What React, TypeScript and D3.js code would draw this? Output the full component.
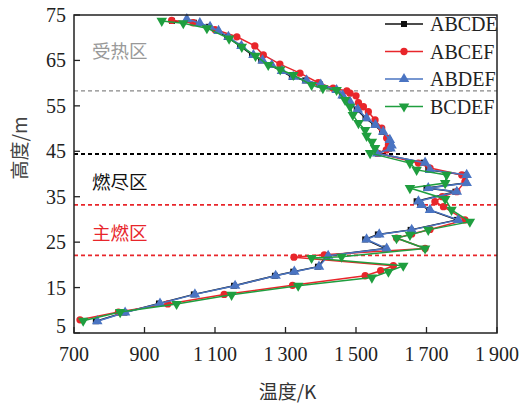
import React from "react";
import * as d3 from "d3";

// temperature (K), height (m)
const abcde: [number, number][] = [
  [762, 7.6], [843, 9.5], [941, 11.5], [1040, 13.5], [1154, 15.4], [1270, 17.6], [1322, 18.5], [1392, 19.6],
  [1418, 22.0], [1583, 23.6], [1526, 25.6], [1562, 26.7], [1655, 27.7], [1786, 29.9], [1707, 32.1], [1683, 33.2],
  [1672, 34.0], [1782, 36.1], [1700, 36.9], [1810, 38.0], [1810, 39.8], [1705, 40.9], [1692, 42.5], [1562, 44.5],
  [1594, 45.6], [1598, 46.3], [1592, 47.5], [1574, 49.3], [1552, 50.8], [1527, 52.3], [1502, 54.2], [1480, 55.9],
  [1460, 57.3], [1443, 58.5], [1398, 59.7], [1356, 60.6], [1318, 61.4], [1287, 62.7], [1257, 64.0], [1231, 65.0],
  [1205, 66.2], [1171, 68.2], [1134, 70.2], [1106, 71.5], [1082, 72.4], [1040, 73.3], [978, 73.7],
];
const abcef: [number, number][] = [
  [717, 7.9], [826, 9.6], [966, 11.4], [1126, 13.5], [1320, 15.5], [1526, 17.6], [1570, 18.7], [1606, 19.8],
  [1324, 21.7], [1410, 22.2], [1696, 23.6], [1615, 25.9], [1658, 26.8], [1710, 27.8], [1809, 29.9], [1748, 32.8],
  [1724, 33.9], [1745, 35.0], [1786, 36.1], [1809, 38.3], [1800, 39.8], [1710, 41.3], [1677, 42.4], [1560, 44.6],
  [1586, 45.3], [1592, 46.4], [1587, 47.9], [1573, 50.1], [1554, 51.9], [1535, 53.7], [1521, 54.8], [1507, 55.7],
  [1500, 57.2], [1483, 57.8], [1474, 58.3], [1435, 58.9], [1393, 60.1], [1341, 62.2], [1284, 64.2], [1237, 66.2],
  [1213, 68.2], [1162, 70.2], [1100, 71.8], [1038, 73.3], [977, 73.8],
];
const abdef: [number, number][] = [
  [766, 7.6], [845, 9.5], [944, 11.5], [1043, 13.5], [1157, 15.4], [1272, 17.6], [1325, 18.5], [1395, 19.6],
  [1421, 22.0], [1587, 23.6], [1530, 25.6], [1566, 26.7], [1658, 27.7], [1790, 29.9], [1710, 32.1], [1686, 33.2],
  [1677, 34.0], [1786, 36.1], [1705, 36.9], [1814, 38.0], [1814, 39.8], [1710, 40.9], [1696, 42.5], [1560, 44.5],
  [1598, 45.6], [1601, 46.3], [1596, 47.5], [1577, 49.3], [1555, 50.8], [1530, 52.3], [1505, 54.2], [1483, 55.9],
  [1462, 57.3], [1445, 58.5], [1400, 59.7], [1360, 60.6], [1322, 61.4], [1290, 62.7], [1261, 64.0], [1235, 65.0],
  [1209, 66.2], [1175, 68.2], [1138, 70.2], [1110, 71.5], [1086, 72.4], [1057, 73.2], [1020, 74.1],
];
const bcdef: [number, number][] = [
  [726, 7.7], [831, 9.6], [991, 11.4], [1147, 13.4], [1336, 15.4], [1545, 17.2], [1592, 18.5], [1634, 19.8],
  [1374, 21.5], [1459, 21.8], [1696, 23.6], [1615, 25.9], [1653, 26.6], [1705, 27.7], [1823, 29.5], [1771, 32.1],
  [1753, 34.5], [1653, 36.9], [1753, 38.0], [1757, 39.8], [1672, 40.9], [1653, 42.4], [1540, 44.6], [1554, 45.7],
  [1545, 47.1], [1530, 48.4], [1526, 49.7], [1507, 51.2], [1491, 53.0], [1483, 54.8], [1469, 56.3], [1445, 58.5],
  [1406, 58.9], [1374, 59.6], [1322, 61.8], [1285, 63.0], [1251, 64.0], [1215, 66.0], [1176, 68.0], [1140, 69.8],
  [1077, 72.1], [1010, 73.2], [949, 73.7],
];

const seriesNames = ["ABCDE", "ABCEF", "ABDEF", "BCDEF"];
const seriesData = [abcde, abcef, abdef, bcdef];
const seriesColors = ["#111111", "#e8262b", "#4a74c2", "#1f9e3f"];
const seriesSymbols = [d3.symbolSquare, d3.symbolCircle, d3.symbolTriangle, d3.symbolTriangle];

const xTicks = [700, 900, 1100, 1300, 1500, 1700, 1900];
const yTicks = [5, 15, 25, 35, 45, 55, 65, 75];

// zone boundaries (m)
const boundaries = [58.3, 44.4, 33.2, 22.1];
const boundaryColors = ["#888888", "#000000", "#e8262b", "#e8262b"];
const zoneLabels = ["受热区", "燃尽区", "主燃区"];
const zoneHeights = [66.7, 37.8, 26.5];
const zoneColors = ["#999999", "#111111", "#e8262b"];

const W = 521;
const H = 405;
const margin = { left: 74, right: 24, top: 15, bottom: 72 };
const serif = { fontFamily: "Liberation Serif, Times New Roman, Times, DejaVu Serif, serif" };
const cjk = { fontFamily: "Noto Sans CJK SC, sans-serif" };

const fmt = (v: number) => (v >= 1000 ? `${Math.floor(v / 1000)}\u2009${String(v % 1000).padStart(3, "0")}` : `${v}`);

export default function App() {
  const x = d3.scaleLinear().domain([700, 1900]).range([margin.left, W - margin.right]);
  const y = d3.scaleLinear().domain([5, 75]).range([H - margin.bottom, margin.top]);
  const path = d3.line<[number, number]>().x((d) => x(d[0])).y((d) => y(d[1]));
  const x0 = x.range()[0];
  const x1 = x.range()[1];
  const y0 = y.range()[0];
  const y1 = y.range()[1];

  const marker = (i: number) => {
    const size = i === 1 ? 42 : i === 0 ? 36 : 48;
    return d3.symbol().type(seriesSymbols[i]).size(size)() as string;
  };
  const markerTransform = (i: number, px: number, py: number) =>
    i === 3 ? `translate(${px},${py}) rotate(180)` : `translate(${px},${py})`;

  return (
    <svg width={W} height={H} style={{ position: "absolute", left: 0, top: 0, background: "#fff" }}>
      {boundaries.map((b, i) => (
        <line
          key={b}
          x1={x0}
          x2={x1}
          y1={y(b)}
          y2={y(b)}
          stroke={boundaryColors[i]}
          strokeWidth={i === 0 ? 1.2 : 1.8}
          strokeDasharray="4 3"
        />
      ))}

      {zoneLabels.map((z, i) => (
        <text key={z} x={92} y={y(zoneHeights[i])} fill={zoneColors[i]} style={cjk} fontSize={18.5} dominantBaseline="middle">
          {z}
        </text>
      ))}

      {seriesData.map((s, i) => (
        <g key={seriesNames[i]}>
          <path d={path(s) as string} fill="none" stroke={seriesColors[i]} strokeWidth={1.5} />
          {s.map((d, j) => (
            <path key={j} d={marker(i)} transform={markerTransform(i, x(d[0]), y(d[1]))} fill={seriesColors[i]} />
          ))}
        </g>
      ))}

      <rect x={x0} y={y1} width={x1 - x0} height={y0 - y1} fill="none" stroke="#222" strokeWidth={1.5} />
      {xTicks.map((t) => (
        <g key={t}>
          <line x1={x(t)} x2={x(t)} y1={y0} y2={y0 - 6} stroke="#222" strokeWidth={1.3} />
          <text x={x(t)} y={y0 + 28} textAnchor="middle" style={serif} fontSize={20} fill="#222">
            {fmt(t)}
          </text>
        </g>
      ))}
      {yTicks.map((t) => (
        <g key={t}>
          <line x1={x0} x2={x0 + 6} y1={y(t)} y2={y(t)} stroke="#222" strokeWidth={1.3} />
          <text x={x0 - 8} y={t === 5 ? y(t) - 7 : y(t)} textAnchor="end" dominantBaseline="central" style={serif} fontSize={20} fill="#222">
            {t}
          </text>
        </g>
      ))}

      <text x={(x0 + x1) / 2 + 2} y={H - 6} textAnchor="middle" style={cjk} fontSize={19} fill="#333">
        温度/K
      </text>
      <text transform={`translate(27,148) rotate(-90)`} textAnchor="middle" style={cjk} fontSize={19} fill="#444">
        高度/m
      </text>

      {seriesNames.map((n, i) => {
        const ly = 24 + i * 27.5;
        return (
          <g key={n}>
            <line x1={385} x2={423} y1={ly} y2={ly} stroke={seriesColors[i]} strokeWidth={1.5} />
            <path d={marker(i)} transform={markerTransform(i, 404, ly)} fill={seriesColors[i]} />
            <text x={430} y={ly} dominantBaseline="central" style={serif} fontSize={20} fill="#222">
              {n}
            </text>
          </g>
        );
      })}
    </svg>
  );
}
